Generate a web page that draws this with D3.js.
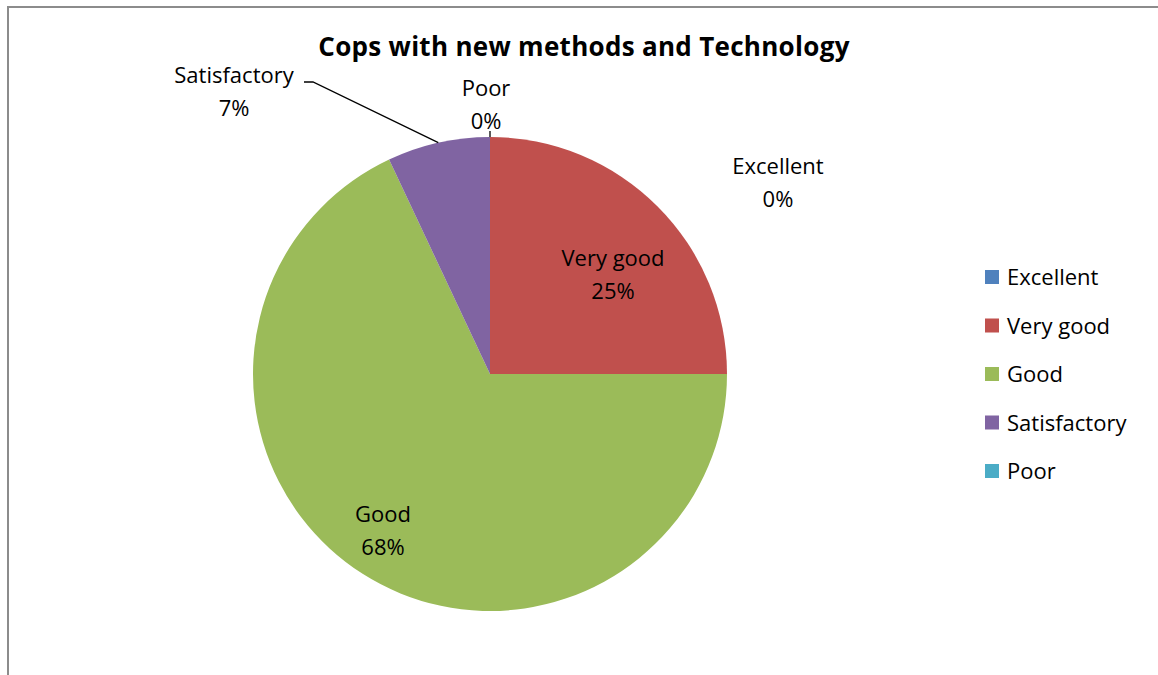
<!DOCTYPE html>
<html>
<head>
<meta charset="utf-8">
<script src="https://cdn.jsdelivr.net/npm/d3@7"></script>
<style>
  body { margin: 0; background: #fff; }
  svg { display: block; }
  text { font-family: "Open Sans", Lato, sans-serif; fill: #000; }
</style>
</head>
<body>
<div id="chart"></div>
<script>
// chart data
var categories = ["Excellent", "Very good", "Good", "Satisfactory", "Poor"];
var values = [0, 25, 68, 7, 0];
var colors = ["#4f81bd", "#c0504d", "#9bbb59", "#8064a2", "#4bacc6"];
var title = "Cops with new methods and Technology";

var width = 1158, height = 675;
var cx = 490, cy = 374, radius = 237;

var svg = d3.select("#chart").append("svg")
    .attr("width", width)
    .attr("height", height);

// chart frame (only left and top edges are visible in the crop)
svg.append("path")
    .attr("d", "M8,675 L8,7 L1158,7")
    .attr("fill", "none")
    .attr("stroke", "#8c8c8c")
    .attr("stroke-width", 2);

svg.append("text")
    .attr("x", 584)
    .attr("y", 56)
    .attr("text-anchor", "middle")
    .style("font-size", "26px")
    .style("font-weight", "bold")
    .style("letter-spacing", "0.3px")
    .text(title);

var pie = d3.pie().sort(null).value(function(d) { return d; });
var arcs = pie(values);
var arc = d3.arc().innerRadius(0).outerRadius(radius);

var g = svg.append("g").attr("transform", "translate(" + cx + "," + cy + ")");

g.selectAll("path.slice")
    .data(arcs)
    .enter()
    .append("path")
    .attr("class", "slice")
    .attr("d", arc)
    .attr("fill", function(d, i) { return colors[i]; });

// label placement, relative to pie centre (layout, not data)
var labelSpots = {
    "Excellent":    { x: 288, y: -200 },
    "Very good":    { x: 123, y: -108 },
    "Good":         { x: -107, y: 148 },
    "Satisfactory": { x: -256, y: -291 },
    "Poor":         { x: -4, y: -278 }
};

var fmt = function(v) {
    var tot = d3.sum(values);
    return Math.round(v / tot * 100) + "%";
};

arcs.forEach(function(d, i) {
    var p = labelSpots[categories[i]];
    var t = g.append("text")
        .attr("text-anchor", "middle")
        .style("font-size", "22px");
    t.append("tspan").attr("x", p.x).attr("y", p.y).text(categories[i]);
    t.append("tspan").attr("x", p.x).attr("y", p.y + 33).text(fmt(values[i]));
});

// leader lines to outside labels
var satArc = arcs[3];
var satMid = (satArc.startAngle + satArc.endAngle) / 2;
var edge = [Math.sin(satMid) * radius, -Math.cos(satMid) * radius];
g.append("polyline")
    .attr("points", [[-186, -292], [-177, -292], edge].map(function(p) { return p.join(","); }).join(" "))
    .attr("fill", "none")
    .attr("stroke", "#000")
    .attr("stroke-width", 1.3);

var poorAng = arcs[4].startAngle;
g.append("line")
    .attr("x1", Math.sin(poorAng) * radius)
    .attr("y1", -Math.cos(poorAng) * radius)
    .attr("x2", Math.sin(poorAng) * (radius + 6))
    .attr("y2", -Math.cos(poorAng) * (radius + 6))
    .attr("stroke", "#000")
    .attr("stroke-width", 1.3);

// legend
var legend = svg.append("g").attr("transform", "translate(985,270)");
var rows = legend.selectAll("g")
    .data(categories)
    .enter()
    .append("g")
    .attr("transform", function(d, i) { return "translate(0," + (i * 48.5) + ")"; });
rows.append("rect")
    .attr("width", 14)
    .attr("height", 14)
    .attr("fill", function(d, i) { return colors[i]; });
rows.append("text")
    .attr("x", 22)
    .attr("y", 15)
    .style("font-size", "22px")
    .text(function(d) { return d; });
</script>
</body>
</html>
